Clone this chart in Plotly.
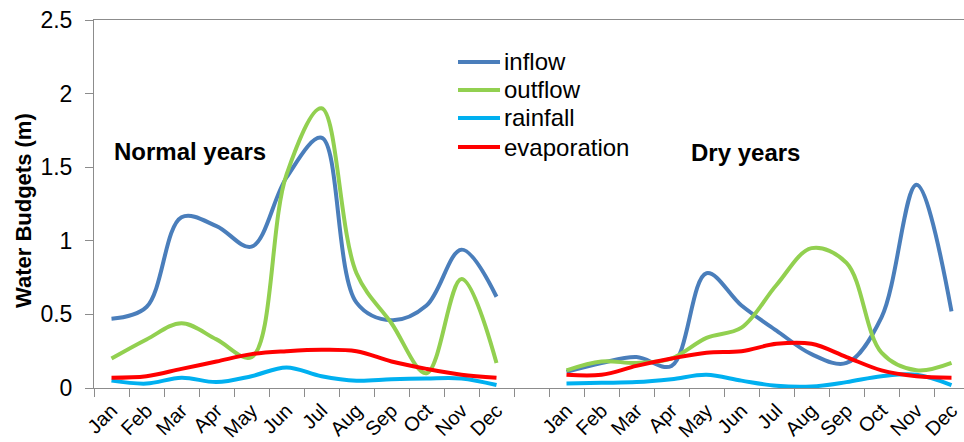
import plotly.graph_objects as go

months = ["Jan", "Feb", "Mar", "Apr", "May", "Jun", "Jul", "Aug", "Sep", "Oct", "Nov", "Dec"]

# Normal years
normal_inflow = [0.47, 0.55, 1.16, 1.10, 0.96, 1.43, 1.70, 0.58, 0.46, 0.56, 0.94, 0.62]
normal_outflow = [0.20, 0.33, 0.44, 0.33, 0.21, 1.45, 1.90, 0.78, 0.44, 0.10, 0.74, 0.17]
normal_rainfall = [0.05, 0.03, 0.07, 0.04, 0.08, 0.14, 0.08, 0.05, 0.06, 0.065, 0.065, 0.02]
normal_evaporation = [0.07, 0.08, 0.13, 0.18, 0.23, 0.25, 0.26, 0.25, 0.18, 0.13, 0.09, 0.07]

# Dry years
dry_inflow = [0.11, 0.17, 0.21, 0.15, 0.78, 0.56, 0.39, 0.23, 0.17, 0.48, 1.38, 0.52]
dry_outflow = [0.12, 0.18, 0.17, 0.20, 0.34, 0.41, 0.70, 0.95, 0.85, 0.24, 0.12, 0.17]
dry_rainfall = [0.03, 0.035, 0.04, 0.06, 0.09, 0.05, 0.015, 0.01, 0.04, 0.08, 0.09, 0.02]
dry_evaporation = [0.09, 0.09, 0.15, 0.20, 0.24, 0.25, 0.30, 0.30, 0.21, 0.12, 0.08, 0.07]

series_names = ["inflow", "outflow", "rainfall", "evaporation"]
series_colors = ["#4A7EBB", "#92D050", "#00B0F0", "#FF0000"]
normal_data = [normal_inflow, normal_outflow, normal_rainfall, normal_evaporation]
dry_data = [dry_inflow, dry_outflow, dry_rainfall, dry_evaporation]

y_tick_vals = [0, 0.5, 1, 1.5, 2, 2.5]
y_tick_text = ["0", "0.5", "1", "1.5", "2", "2.5"]

# x positions: 12 normal months, one empty slot, 12 dry months
x_normal = list(range(12))
x_dry = list(range(13, 25))
x_all = x_normal + [12] + x_dry
tick_vals = x_normal + x_dry
tick_text = months + months
boundaries = [i - 0.5 for i in range(26)]

FONT = "Liberation Sans, Arial, sans-serif"
AXIS_GREY = "#8C8C8C"

# pixel -> paper helpers (plot area: x 94..964, y 20..388)
L, R, T, B = 94, 964, 20, 388
def px(xp):
    return (xp - L) / (R - L)
def py(yp):
    return (B - yp) / (B - T)

fig = go.Figure()
for name, color, nd, dd in zip(series_names, series_colors, normal_data, dry_data):
    fig.add_trace(go.Scatter(
        x=x_all,
        y=nd + [None] + dd,
        mode="lines",
        name=name,
        line=dict(color=color, width=4, shape="spline", smoothing=1.0),
        connectgaps=False,
        showlegend=False,
    ))

# Legend (drawn as key lines + labels)
legend_rows = [62, 90, 118, 147]
shapes = []
annotations = []
for name, color, ry in zip(series_names, series_colors, legend_rows):
    shapes.append(dict(type="line", xref="paper", yref="paper",
                       x0=px(458), x1=px(500), y0=py(ry), y1=py(ry),
                       line=dict(color=color, width=4)))
    annotations.append(dict(text=name, xref="paper", yref="paper",
                            x=px(502), y=py(ry), xanchor="left", yanchor="middle",
                            showarrow=False,
                            font=dict(size=24, family=FONT, color="#000000")))

annotations += [
    dict(text="<b>Water Budgets (m)</b>", textangle=-90, xref="paper", yref="paper",
         x=px(23), y=py(211), xanchor="center", yanchor="middle",
         showarrow=False, font=dict(size=22, family=FONT, color="#000000")),
    dict(text="<b>Normal years</b>", xref="paper", yref="paper",
         x=px(112), y=py(151), xanchor="left", yanchor="middle",
         showarrow=False, font=dict(size=24, family=FONT, color="#000000")),
    dict(text="<b>Dry years</b>", xref="paper", yref="paper",
         x=px(689), y=py(152), xanchor="left", yanchor="middle",
         showarrow=False, font=dict(size=24, family=FONT, color="#000000")),
]

fig.update_layout(
    width=964,
    height=442,
    margin=dict(l=L, r=0, t=T, b=442 - B),
    paper_bgcolor="white",
    plot_bgcolor="white",
    font=dict(family=FONT, color="#000000"),
    showlegend=False,
    shapes=shapes,
    annotations=annotations,
    xaxis=dict(
        range=[-0.5, 24.357],
        tickmode="array",
        tickvals=tick_vals,
        ticktext=tick_text,
        tickangle=-45,
        ticks="",
        ticklabelstandoff=2,
        tickfont=dict(size=20, family=FONT, color="#000000"),
        showgrid=False,
        zeroline=False,
        showline=True,
        linecolor=AXIS_GREY,
        linewidth=1,
        mirror=True,
        automargin=False,
        minor=dict(tickmode="array", tickvals=boundaries, ticks="outside",
                   ticklen=8, tickcolor=AXIS_GREY, tickwidth=1, showgrid=False),
    ),
    yaxis=dict(
        range=[0, 2.5],
        tickmode="array",
        tickvals=y_tick_vals,
        ticktext=y_tick_text,
        ticks="outside",
        ticklen=8,
        tickcolor=AXIS_GREY,
        ticklabelstandoff=8,
        tickfont=dict(size=23, family=FONT, color="#000000"),
        showgrid=False,
        zeroline=False,
        showline=True,
        linecolor=AXIS_GREY,
        linewidth=1,
        automargin=False,
    ),
)

fig.write_html("out.html")
